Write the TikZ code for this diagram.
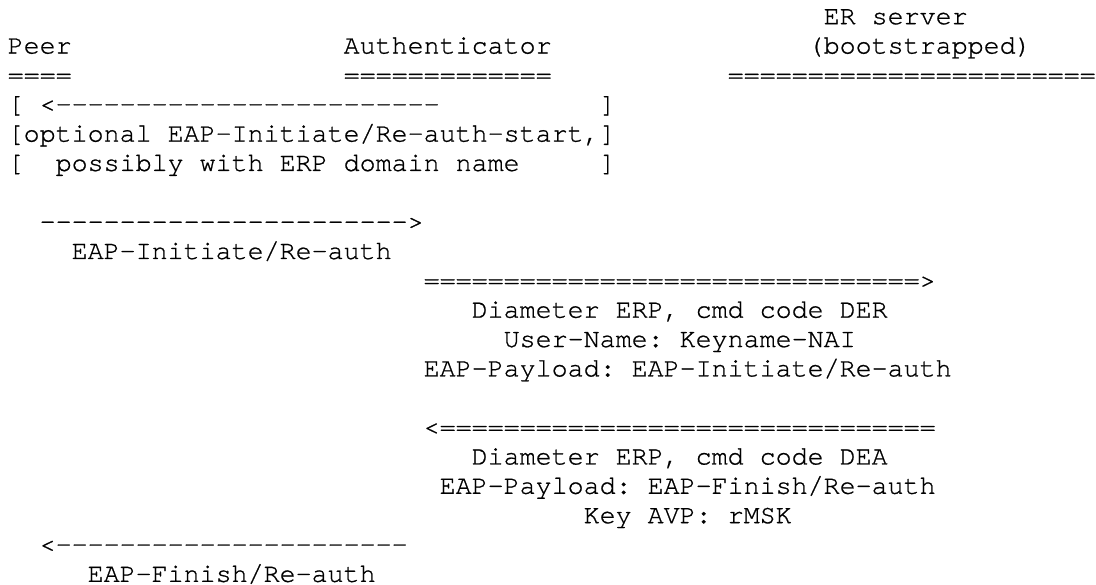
\documentclass[tikz,border=0pt]{standalone}
\usepackage{fontspec}
\usepackage{tikz}

\newfontfamily\asciifont{TeX Gyre Cursor}[FakeBold=0.8]
\newcommand\repchar[2]{\foreach \k in {1,...,#1}{#2}}
\tikzset{
  ascii/.style={anchor=base west, inner sep=0pt, outer sep=0pt,
    font=\asciifont\fontsize{13.333pt}{14.675pt}\selectfont\frenchspacing}
}

\begin{document}
\begin{tikzpicture}[x=8pt, y=-14.675pt]
  \useasboundingbox (0,0) rectangle (68.5,19.898);
  \begin{scope}[shift={(0.48,-0.1755)}]
    % heads
    \node[ascii] (ers)   at (51,1) {ER server};
    \node[ascii] (peer)  at (0,2)  {Peer};
    \node[ascii] (auth)  at (21,2) {Authenticator};
    \node[ascii] (boot)  at (50,2) {(bootstrapped)};
    \node[ascii] (peerln) at (0,3)  {\repchar{4}{=}};
    \node[ascii] (authln) at (21,3) {\repchar{13}{=}};
    \node[ascii] (ersln)  at (45,3) {\repchar{23}{=}};
    % optional start
    \node[ascii] (optl1) at (0,4)  {[};
    \node[ascii] (optar) at (2,4)  {<\repchar{24}{-}};
    \node[ascii] (optr1) at (37,4) {]};
    \node[ascii] (optmsg) at (0,5) {[optional EAP-Initiate/Re-auth-start,]};
    \node[ascii] (optl3) at (0,6)  {[};
    \node[ascii] (optdom) at (3,6) {possibly with ERP domain name};
    \node[ascii] (optr3) at (37,6) {]};
    % re-auth
    \node[ascii] (reqar)  at (2,8)  {\repchar{23}{-}>};
    \node[ascii] (reqmsg) at (4,9)  {EAP-Initiate/Re-auth};
    \node[ascii] (derar)  at (26,10) {\repchar{31}{=}>};
    \node[ascii] (der1)   at (29,11) {Diameter ERP, cmd code DER};
    \node[ascii] (der2)   at (31,12) {User-Name: Keyname-NAI};
    \node[ascii] (der3)   at (26,13) {EAP-Payload: EAP-Initiate/Re-auth};
    % finish
    \node[ascii] (deaar)  at (26,15) {<\repchar{31}{=}};
    \node[ascii] (dea1)   at (29,16) {Diameter ERP, cmd code DEA};
    \node[ascii] (dea2)   at (27,17) {EAP-Payload: EAP-Finish/Re-auth};
    \node[ascii] (dea3)   at (36,18) {Key AVP: rMSK};
    \node[ascii] (finar)  at (2,19)  {<\repchar{22}{-}};
    \node[ascii] (finmsg) at (5,20)  {EAP-Finish/Re-auth};
  \end{scope}
\end{tikzpicture}
\end{document}
